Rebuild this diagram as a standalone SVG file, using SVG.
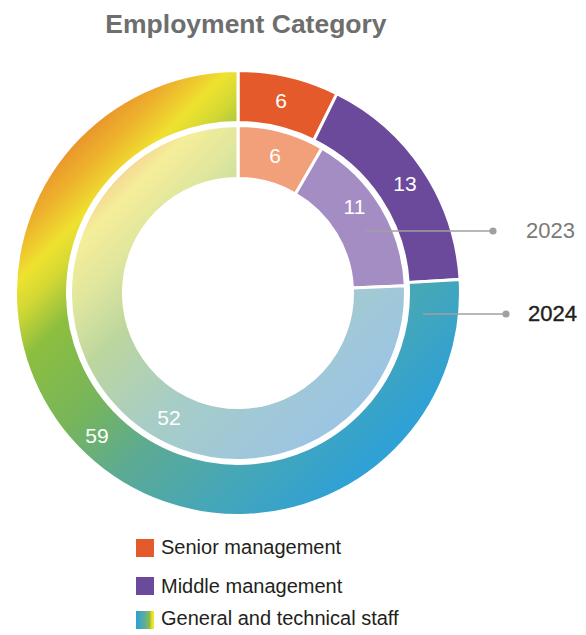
<svg xmlns="http://www.w3.org/2000/svg" width="586" height="635" viewBox="0 0 586 635">
<style>
.seg{stroke:#fff;stroke-width:3;stroke-linejoin:miter}
.val{font-family:"Liberation Sans",Arial,sans-serif;font-size:21px;fill:#fff;text-anchor:middle}
.leg{font-family:"Liberation Sans",Arial,sans-serif;font-size:20px;fill:#231f20}
.lead{stroke:#a0a0a0;stroke-width:1.6;fill:none}
.dot{fill:#a0a0a0}
</style>
<defs>
<linearGradient id="gOut" gradientUnits="userSpaceOnUse" x1="95" y1="105" x2="425" y2="435">
<stop offset="0" stop-color="#E8892A"/>
<stop offset="0.08" stop-color="#EDB12D"/>
<stop offset="0.15" stop-color="#EFE22F"/>
<stop offset="0.2" stop-color="#D2D834"/>
<stop offset="0.28" stop-color="#8CBE3F"/>
<stop offset="0.45" stop-color="#76B55C"/>
<stop offset="0.6" stop-color="#5CAA95"/>
<stop offset="0.77" stop-color="#47A7B6"/>
<stop offset="0.95" stop-color="#30A1D4"/>
<stop offset="1" stop-color="#30A1D4"/>
</linearGradient>
<linearGradient id="gIn" gradientUnits="userSpaceOnUse" x1="95" y1="95" x2="425" y2="425">
<stop offset="0" stop-color="#F0B48A"/>
<stop offset="0.12" stop-color="#F3C48F"/>
<stop offset="0.2" stop-color="#F5EE99"/>
<stop offset="0.3" stop-color="#DCE59E"/>
<stop offset="0.4" stop-color="#BCD69E"/>
<stop offset="0.58" stop-color="#A7CDC6"/>
<stop offset="0.85" stop-color="#9CC5E2"/>
<stop offset="1" stop-color="#9CC5E2"/>
</linearGradient>
<linearGradient id="gLeg" x1="0" y1="0" x2="1" y2="0">
<stop offset="0" stop-color="#2E9FD6"/>
<stop offset="0.5" stop-color="#5FAE9A"/>
<stop offset="0.75" stop-color="#8CBE3F"/>
<stop offset="0.9" stop-color="#EFE22F"/>
<stop offset="1" stop-color="#EFE22F"/>
</linearGradient>
</defs>

<text x="246" y="33" font-family="'Liberation Sans',Arial,sans-serif" font-size="26.5" font-weight="bold" fill="#6E6E6E" text-anchor="middle">Employment Category</text>

<g id="outer-senior">
<path class="seg" fill="#E55A2B" d="M238,70.5 A222.5,222.5 0 0 1 336.93,93.70 L313.81,140.28 A170.5,170.5 0 0 0 238,122.5 Z"/>
<text class="val" x="281" y="108">6</text>
</g>
<g id="outer-middle">
<path class="seg" fill="#6B4A9B" d="M336.93,93.70 A222.5,222.5 0 0 1 460.08,279.42 L408.18,282.59 A170.5,170.5 0 0 0 313.81,140.28 Z"/>
<text class="val" x="405" y="191">13</text>
</g>
<g id="outer-general">
<path class="seg" fill="url(#gOut)" d="M460.08,279.42 A222.5,222.5 0 1 1 238,70.5 L238,122.5 A170.5,170.5 0 1 0 408.18,282.59 Z"/>
<text class="val" x="97" y="443">59</text>
</g>
<g id="inner-senior">
<path class="seg" fill="#F1A07A" d="M238,125.5 A167.5,167.5 0 0 1 322.00,148.09 L295.42,193.94 A114.5,114.5 0 0 0 238,178.5 Z"/>
<text class="val" x="275" y="163">6</text>
</g>
<g id="inner-middle">
<path class="seg" fill="#A48DC3" d="M322.00,148.09 A167.5,167.5 0 0 1 405.34,285.69 L352.39,288.01 A114.5,114.5 0 0 0 295.42,193.94 Z"/>
<text class="val" x="354.5" y="214">11</text>
</g>
<g id="inner-general">
<path class="seg" fill="url(#gIn)" d="M405.34,285.69 A167.5,167.5 0 1 1 238,125.5 L238,178.5 A114.5,114.5 0 1 0 352.39,288.01 Z"/>
<text class="val" x="169" y="425">52</text>
</g>

<g id="connectors">
<line class="lead" x1="365" y1="231" x2="493" y2="231"/>
<circle class="dot" cx="493" cy="231" r="3.6"/>
<line class="lead" x1="423" y1="314" x2="506" y2="314"/>
<circle class="dot" cx="506" cy="314" r="3.6"/>
</g>

<g id="label-2023">
<text x="526" y="238" font-family="'Liberation Sans',Arial,sans-serif" font-size="22" fill="#7a7a7a">2023</text>
</g>
<g id="label-2024">
<text x="528" y="321" font-family="'Liberation Sans',Arial,sans-serif" font-size="22" fill="#231f20" stroke="#231f20" stroke-width="0.4">2024</text>
</g>

<g id="legend-senior">
<rect x="136" y="539" width="18" height="18" fill="#E55A2B"/>
<text class="leg" x="161" y="554">Senior management</text>
</g>
<g id="legend-middle">
<rect x="136" y="577" width="18" height="18" fill="#6B4A9B"/>
<text class="leg" x="161" y="593">Middle management</text>
</g>
<g id="legend-general">
<rect x="136" y="611" width="18" height="18" fill="url(#gLeg)"/>
<text class="leg" x="161" y="625">General and technical staff</text>
</g>
</svg>
